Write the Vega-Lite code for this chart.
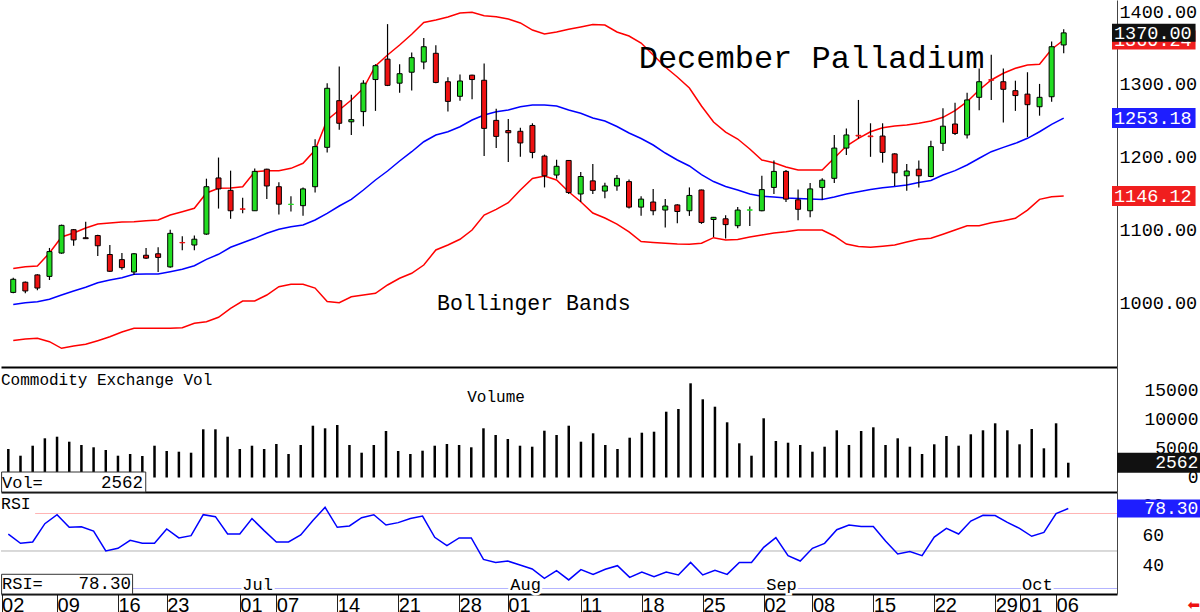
{
  "$schema": "https://vega.github.io/schema/vega-lite/v6.json",
  "background": "white",
  "padding": 0,
  "spacing": 0,
  "bounds": "flush",
  "config": {"view": {"stroke": null}, "axis": {"grid": false}, "text": {"font": "Liberation Mono", "color": "black"}},
  "datasets": {
    "d": [
{"i":0,"o":1014,"h":1034,"l":1013,"c":1032,"up":1046.8,"mid":997.4,"lo":948.0,"vol":4942,"rsi":61.3},
{"i":1,"o":1028,"h":1029,"l":1013,"c":1016,"up":1049.3,"mid":999.9,"lo":950.1,"vol":3780,"rsi":55.1},
{"i":2,"o":1038,"h":1039,"l":1017,"c":1020,"up":1050.2,"mid":1001.3,"lo":951.1,"vol":5514,"rsi":56.0},
{"i":3,"o":1036,"h":1075,"l":1031,"c":1070,"up":1068.1,"mid":1004.6,"lo":946.4,"vol":6797,"rsi":68.2},
{"i":4,"o":1068,"h":1107,"l":1067,"c":1106,"up":1090.0,"mid":1010.4,"lo":937.3,"vol":7075,"rsi":74.2},
{"i":5,"o":1100,"h":1101,"l":1078,"c":1086,"up":1095.5,"mid":1015.9,"lo":940.5,"vol":6208,"rsi":65.8},
{"i":6,"o":1089,"h":1111,"l":1087.5,"c":1087.7,"up":1102.4,"mid":1021.0,"lo":942.8,"vol":5636,"rsi":66.2},
{"i":7,"o":1092,"h":1093,"l":1064,"c":1078,"up":1107.8,"mid":1027.3,"lo":947.8,"vol":5237,"rsi":63.3},
{"i":8,"o":1066,"h":1079,"l":1042,"c":1043,"up":1109.2,"mid":1031.0,"lo":953.2,"vol":4769,"rsi":50.0},
{"i":9,"o":1059,"h":1068,"l":1045,"c":1048,"up":1110.6,"mid":1034.2,"lo":959.7,"vol":3780,"rsi":51.8},
{"i":10,"o":1042,"h":1068,"l":1038,"c":1067,"up":1111.0,"mid":1038.8,"lo":964.8,"vol":4075,"rsi":57.1},
{"i":11,"o":1065,"h":1075,"l":1060,"c":1061,"up":1112.4,"mid":1039.3,"lo":964.8,"vol":3728,"rsi":55.1},
{"i":12,"o":1067,"h":1076,"l":1042,"c":1062,"up":1113.3,"mid":1039.3,"lo":964.8,"vol":5514,"rsi":55.1},
{"i":13,"o":1049,"h":1100,"l":1048,"c":1095,"up":1120.2,"mid":1042.4,"lo":964.8,"vol":4595,"rsi":64.7},
{"i":14,"o":1082.5,"h":1091,"l":1072,"c":1082.0,"up":1124.7,"mid":1045.7,"lo":965.6,"vol":4474,"rsi":58.7},
{"i":15,"o":1079,"h":1092,"l":1072,"c":1087,"up":1129.4,"mid":1050.6,"lo":971.6,"vol":4300,"rsi":60.2},
{"i":16,"o":1094,"h":1170,"l":1093,"c":1159,"up":1150.4,"mid":1059.4,"lo":973.8,"vol":8358,"rsi":74.2},
{"i":17,"o":1171,"h":1199,"l":1129,"c":1156,"up":1156.8,"mid":1066.3,"lo":979.9,"vol":8358,"rsi":72.9},
{"i":18,"o":1154,"h":1181,"l":1115,"c":1126,"up":1157.2,"mid":1075.9,"lo":992.2,"vol":7075,"rsi":61.3},
{"i":19,"o":1128.6,"h":1144,"l":1122.5,"c":1128.1,"up":1159.0,"mid":1082.2,"lo":1002.2,"vol":4942,"rsi":61.3},
{"i":20,"o":1126,"h":1184,"l":1126,"c":1180,"up":1179.6,"mid":1088.2,"lo":1002.2,"vol":5514,"rsi":71.6},
{"i":21,"o":1183,"h":1183.5,"l":1142,"c":1160,"up":1181.0,"mid":1095.1,"lo":1010.4,"vol":4942,"rsi":63.6},
{"i":22,"o":1159,"h":1165,"l":1121,"c":1135,"up":1181.0,"mid":1100.6,"lo":1021.8,"vol":5809,"rsi":56.0},
{"i":23,"o":1134.6,"h":1146,"l":1125,"c":1135.0,"up":1184.2,"mid":1104.1,"lo":1025.1,"vol":4075,"rsi":56.0},
{"i":24,"o":1133,"h":1158,"l":1119,"c":1156,"up":1191.1,"mid":1106.5,"lo":1025.1,"vol":5636,"rsi":60.7},
{"i":25,"o":1159,"h":1224,"l":1151,"c":1214,"up":1209.3,"mid":1113.3,"lo":1020.0,"vol":8982,"rsi":70.4},
{"i":26,"o":1213,"h":1301,"l":1206,"c":1294,"up":1250.5,"mid":1122.5,"lo":1001.5,"vol":8531,"rsi":79.1},
{"i":27,"o":1277,"h":1324,"l":1237,"c":1246,"up":1264.2,"mid":1132.5,"lo":999.9,"vol":9104,"rsi":65.8},
{"i":28,"o":1248,"h":1285,"l":1230,"c":1251,"up":1277.9,"mid":1141.7,"lo":1008.1,"vol":5636,"rsi":66.7},
{"i":29,"o":1262,"h":1305,"l":1242,"c":1301,"up":1294.0,"mid":1154.5,"lo":1010.4,"vol":4300,"rsi":72.2},
{"i":30,"o":1306,"h":1327,"l":1263,"c":1325,"up":1324.6,"mid":1168.2,"lo":1012.8,"vol":5636,"rsi":74.2},
{"i":31,"o":1334,"h":1382,"l":1297,"c":1298,"up":1339.7,"mid":1180.5,"lo":1024.2,"vol":8063,"rsi":67.3},
{"i":32,"o":1301,"h":1327,"l":1288,"c":1314,"up":1353.4,"mid":1194.3,"lo":1033.4,"vol":4595,"rsi":68.9},
{"i":33,"o":1316,"h":1343,"l":1291,"c":1336,"up":1368.1,"mid":1207.0,"lo":1040.2,"vol":4075,"rsi":71.6},
{"i":34,"o":1330,"h":1363,"l":1320,"c":1351,"up":1384.2,"mid":1220.7,"lo":1051.6,"vol":4647,"rsi":73.3},
{"i":35,"o":1342,"h":1353,"l":1301,"c":1302,"up":1387.7,"mid":1229.9,"lo":1072.2,"vol":5514,"rsi":59.1},
{"i":36,"o":1303,"h":1309,"l":1262,"c":1276,"up":1391.8,"mid":1234.4,"lo":1079.0,"vol":5809,"rsi":53.6},
{"i":37,"o":1283,"h":1313,"l":1277,"c":1304,"up":1397.3,"mid":1241.3,"lo":1086.9,"vol":5636,"rsi":58.7},
{"i":38,"o":1312,"h":1312.5,"l":1279,"c":1306,"up":1398.2,"mid":1250.5,"lo":1099.6,"vol":5237,"rsi":58.7},
{"i":39,"o":1305,"h":1328,"l":1201,"c":1239,"up":1393.6,"mid":1257.4,"lo":1120.2,"vol":8531,"rsi":44.4},
{"i":40,"o":1250,"h":1266,"l":1212,"c":1228,"up":1392.2,"mid":1261.9,"lo":1128.0,"vol":7370,"rsi":42.4},
{"i":41,"o":1236,"h":1252,"l":1193,"c":1233,"up":1389.0,"mid":1264.2,"lo":1137.1,"vol":6676,"rsi":43.3},
{"i":42,"o":1235,"h":1240,"l":1200,"c":1219,"up":1383.6,"mid":1268.7,"lo":1154.5,"vol":5514,"rsi":40.7},
{"i":43,"o":1243,"h":1246,"l":1198,"c":1206,"up":1373.9,"mid":1271.1,"lo":1170.3,"vol":5341,"rsi":38.0},
{"i":44,"o":1201,"h":1203,"l":1158,"c":1174,"up":1368.5,"mid":1271.1,"lo":1173.7,"vol":8115,"rsi":31.8},
{"i":45,"o":1175,"h":1196,"l":1170,"c":1187,"up":1371.2,"mid":1269.7,"lo":1168.2,"vol":7370,"rsi":36.9},
{"i":46,"o":1195,"h":1195.5,"l":1149,"c":1151,"up":1374.9,"mid":1264.2,"lo":1152.1,"vol":8982,"rsi":30.7},
{"i":47,"o":1149,"h":1179,"l":1138,"c":1173,"up":1378.1,"mid":1259.7,"lo":1138.4,"vol":6208,"rsi":37.6},
{"i":48,"o":1167,"h":1190,"l":1149,"c":1154,"up":1381.5,"mid":1253.2,"lo":1122.9,"vol":7664,"rsi":34.4},
{"i":49,"o":1153,"h":1164.5,"l":1143,"c":1160,"up":1380.8,"mid":1249.1,"lo":1116.1,"vol":5636,"rsi":37.8},
{"i":50,"o":1160,"h":1175,"l":1153.5,"c":1170.5,"up":1371.2,"mid":1241.6,"lo":1107.8,"vol":4942,"rsi":40.2},
{"i":51,"o":1166,"h":1169,"l":1129,"c":1131,"up":1365.7,"mid":1232.7,"lo":1096.9,"vol":6901,"rsi":32.4},
{"i":52,"o":1131,"h":1146,"l":1119,"c":1142,"up":1356.1,"mid":1225.1,"lo":1083.8,"vol":7768,"rsi":36.0},
{"i":53,"o":1138,"h":1156,"l":1120,"c":1126,"up":1339.7,"mid":1216.2,"lo":1082.5,"vol":7942,"rsi":32.9},
{"i":54,"o":1127,"h":1142,"l":1103,"c":1132.5,"up":1323.2,"mid":1205.2,"lo":1081.4,"vol":11410,"rsi":36.0},
{"i":55,"o":1134,"h":1135,"l":1109,"c":1125,"up":1309.5,"mid":1195.6,"lo":1080.4,"vol":11878,"rsi":34.0},
{"i":56,"o":1126,"h":1158,"l":1119,"c":1147,"up":1294.4,"mid":1187.4,"lo":1080.0,"vol":16334,"rsi":42.4},
{"i":57,"o":1154.5,"h":1155,"l":1108,"c":1110,"up":1269.7,"mid":1175.7,"lo":1081.4,"vol":13560,"rsi":34.0},
{"i":58,"o":1114,"h":1117.5,"l":1090,"c":1117,"up":1247.8,"mid":1166.1,"lo":1089.1,"vol":12277,"rsi":37.1},
{"i":59,"o":1115,"h":1120,"l":1088,"c":1107,"up":1234.0,"mid":1159.3,"lo":1085.9,"vol":9572,"rsi":34.4},
{"i":60,"o":1105.5,"h":1131,"l":1102,"c":1127,"up":1224.4,"mid":1154.5,"lo":1086.6,"vol":5930,"rsi":42.4},
{"i":61,"o":1126.8,"h":1132,"l":1105,"c":1127.3,"up":1210.7,"mid":1149.0,"lo":1090.0,"vol":3780,"rsi":42.4},
{"i":62,"o":1126,"h":1174,"l":1125.5,"c":1155,"up":1195.6,"mid":1146.0,"lo":1092.8,"vol":10265,"rsi":52.4},
{"i":63,"o":1158,"h":1195,"l":1149,"c":1180,"up":1191.9,"mid":1144.9,"lo":1095.5,"vol":6329,"rsi":58.9},
{"i":64,"o":1180,"h":1182,"l":1138,"c":1142,"up":1186.0,"mid":1143.5,"lo":1097.3,"vol":6034,"rsi":46.9},
{"i":65,"o":1141,"h":1155,"l":1113,"c":1128,"up":1181.9,"mid":1142.8,"lo":1099.6,"vol":5636,"rsi":43.3},
{"i":66,"o":1126,"h":1164,"l":1117,"c":1156,"up":1181.9,"mid":1142.1,"lo":1099.6,"vol":4474,"rsi":51.8},
{"i":67,"o":1158,"h":1170.5,"l":1141,"c":1168,"up":1181.9,"mid":1141.4,"lo":1099.6,"vol":5341,"rsi":55.1},
{"i":68,"o":1170.5,"h":1230,"l":1164,"c":1212,"up":1198.4,"mid":1144.9,"lo":1091.4,"vol":8184,"rsi":64.2},
{"i":69,"o":1212,"h":1239,"l":1202.5,"c":1230,"up":1214.8,"mid":1149.0,"lo":1080.4,"vol":5636,"rsi":67.3},
{"i":70,"o":1229.5,"h":1278,"l":1225,"c":1228.5,"up":1225.4,"mid":1152.1,"lo":1077.0,"vol":8063,"rsi":66.4},
{"i":71,"o":1228.6,"h":1246,"l":1200,"c":1227.6,"up":1234.4,"mid":1155.2,"lo":1075.9,"vol":8705,"rsi":66.4},
{"i":72,"o":1228.5,"h":1246,"l":1192,"c":1206,"up":1239.9,"mid":1157.6,"lo":1077.3,"vol":5636,"rsi":56.7},
{"i":73,"o":1204,"h":1205,"l":1160,"c":1178,"up":1242.3,"mid":1159.3,"lo":1079.0,"vol":6797,"rsi":48.0},
{"i":74,"o":1174,"h":1190,"l":1153.5,"c":1180.5,"up":1243.6,"mid":1161.3,"lo":1083.1,"vol":5341,"rsi":49.6},
{"i":75,"o":1183,"h":1195,"l":1158,"c":1174,"up":1246.0,"mid":1164.8,"lo":1086.9,"vol":4075,"rsi":46.9},
{"i":76,"o":1173,"h":1222,"l":1172,"c":1214,"up":1249.1,"mid":1167.5,"lo":1088.2,"vol":5757,"rsi":59.3},
{"i":77,"o":1218.5,"h":1266.5,"l":1208,"c":1242,"up":1254.2,"mid":1175.1,"lo":1093.7,"vol":7196,"rsi":65.1},
{"i":78,"o":1245,"h":1274,"l":1230,"c":1232,"up":1263.3,"mid":1181.0,"lo":1099.6,"vol":5514,"rsi":61.3},
{"i":79,"o":1230,"h":1288,"l":1225,"c":1278,"up":1275.6,"mid":1188.8,"lo":1105.5,"vol":7491,"rsi":70.0},
{"i":80,"o":1281.6,"h":1321,"l":1264,"c":1303,"up":1291.6,"mid":1198.0,"lo":1105.5,"vol":8184,"rsi":73.8},
{"i":81,"o":1305.8,"h":1340,"l":1278,"c":1305.0,"up":1305.4,"mid":1207.0,"lo":1109.6,"vol":9398,"rsi":73.6},
{"i":82,"o":1303,"h":1321,"l":1247,"c":1292.6,"up":1314.6,"mid":1213.0,"lo":1112.4,"vol":8184,"rsi":69.1},
{"i":83,"o":1290.7,"h":1304.4,"l":1263,"c":1284,"up":1321.4,"mid":1218.5,"lo":1115.7,"vol":5757,"rsi":65.1},
{"i":84,"o":1286,"h":1316,"l":1227,"c":1271.5,"up":1325.9,"mid":1225.4,"lo":1127.0,"vol":8410,"rsi":59.8},
{"i":85,"o":1268.7,"h":1300,"l":1256.4,"c":1281.6,"up":1326.9,"mid":1234.4,"lo":1141.7,"vol":5063,"rsi":62.4},
{"i":86,"o":1282.4,"h":1358,"l":1275.6,"c":1351,"up":1347.5,"mid":1244.6,"lo":1145.3,"vol":9398,"rsi":74.9},
{"i":87,"o":1353.4,"h":1375,"l":1342,"c":1370,"up":1360.24,"mid":1253.18,"lo":1146.12,"vol":2562,"rsi":78.3}
    ],
    "months": [
      {"i": 19, "m": "Jul"},
      {"i": 41, "m": "Aug"},
      {"i": 62, "m": "Sep"},
      {"i": 83, "m": "Oct"}
    ]
  },
  "vconcat": [
    {
      "width": 1116,
      "height": 367,
      "data": {"name": "d"},
      "encoding": {
        "x": {"field": "i", "type": "quantitative", "title": null,
          "scale": {"domain": [-0.6, 91.0], "nice": false, "zero": false},
          "axis": {"labels": false, "ticks": false, "domain": true, "domainColor": "black", "domainWidth": 2}}
      },
      "layer": [
        {"mark": {"type": "line", "color": "#ff0000", "strokeWidth": 1.5},
          "encoding": {"y": {"field": "up", "type": "quantitative", "title": null,
            "scale": {"domain": [911.7, 1415.09], "nice": false, "zero": false},
            "axis": {"orient": "right", "values": [1000, 1100, 1200, 1300, 1400], "format": ".2f", "ticks": false,
              "labelFont": "Liberation Mono", "labelFontSize": 18.5, "labelColor": "black", "labelPadding": 2,
              "domainColor": "#444444", "domainWidth": 1}}}},
        {"mark": {"type": "line", "color": "#0000ff", "strokeWidth": 1.5},
          "encoding": {"y": {"field": "mid", "type": "quantitative", "title": null}}},
        {"mark": {"type": "line", "color": "#ff0000", "strokeWidth": 1.5},
          "encoding": {"y": {"field": "lo", "type": "quantitative", "title": null}}},
        {"mark": {"type": "rule", "color": "black", "strokeWidth": 1.2},
          "encoding": {"y": {"field": "l", "type": "quantitative", "title": null}, "y2": {"field": "h"}}},
        {"mark": {"type": "bar", "width": 5, "strokeWidth": 1},
          "encoding": {
            "y": {"field": "o", "type": "quantitative", "title": null},
            "y2": {"field": "c"},
            "fill": {"condition": {"test": "datum.c >= datum.o", "value": "#22dd22"}, "value": "#ee1111"},
            "stroke": {"condition": [
              {"test": "abs(datum.c - datum.o) < 1.2 && datum.c >= datum.o", "value": "#22dd22"},
              {"test": "abs(datum.c - datum.o) < 1.2", "value": "#ee1111"}], "value": "black"}
          }},
        {"transform": [{"filter": "datum.i == 87"}],
          "mark": {"type": "text", "text": "December Palladium", "align": "left", "baseline": "alphabetic", "fontSize": 32, "font": "Liberation Mono"},
          "encoding": {"x": {"datum": 51.8}, "y": {"datum": 1321.8}}},
        {"transform": [{"filter": "datum.i == 87"}],
          "mark": {"type": "text", "text": "Bollinger Bands", "align": "left", "baseline": "alphabetic", "fontSize": 21.5, "font": "Liberation Mono"},
          "encoding": {"x": {"datum": 35.1}, "y": {"datum": 989.8}}},
        {"transform": [{"filter": "datum.i == 87"}],
          "mark": {"type": "rule", "color": "#f01e1e", "strokeWidth": 19, "strokeCap": "butt"},
          "encoding": {"x": {"datum": 91.0}, "x2": {"datum": 97.92}, "y": {"field": "up", "type": "quantitative", "title": null}}},
        {"transform": [{"filter": "datum.i == 87"}],
          "mark": {"type": "text", "align": "left", "baseline": "middle", "dx": 2, "color": "white", "fontSize": 18.5},
          "encoding": {"x": {"datum": 91.0}, "y": {"field": "up", "type": "quantitative", "title": null}, "text": {"field": "up", "type": "quantitative", "format": ".2f"}}},
        {"transform": [{"filter": "datum.i == 87"}],
          "mark": {"type": "rule", "color": "#111111", "strokeWidth": 18, "strokeCap": "butt"},
          "encoding": {"x": {"datum": 91.0}, "x2": {"datum": 97.92}, "y": {"field": "c", "type": "quantitative", "title": null}}},
        {"transform": [{"filter": "datum.i == 87"}],
          "mark": {"type": "text", "align": "left", "baseline": "middle", "dx": 2, "color": "white", "fontSize": 18.5},
          "encoding": {"x": {"datum": 91.0}, "y": {"field": "c", "type": "quantitative", "title": null}, "text": {"field": "c", "type": "quantitative", "format": ".2f"}}},
        {"transform": [{"filter": "datum.i == 87"}],
          "mark": {"type": "rule", "color": "#1e1eff", "strokeWidth": 20, "strokeCap": "butt"},
          "encoding": {"x": {"datum": 91.0}, "x2": {"datum": 97.92}, "y": {"field": "mid", "type": "quantitative", "title": null}}},
        {"transform": [{"filter": "datum.i == 87"}],
          "mark": {"type": "text", "align": "left", "baseline": "middle", "dx": 2, "color": "white", "fontSize": 18.5},
          "encoding": {"x": {"datum": 91.0}, "y": {"field": "mid", "type": "quantitative", "title": null}, "text": {"field": "mid", "type": "quantitative", "format": ".2f"}}},
        {"transform": [{"filter": "datum.i == 87"}],
          "mark": {"type": "rule", "color": "#f01e1e", "strokeWidth": 20, "strokeCap": "butt"},
          "encoding": {"x": {"datum": 91.0}, "x2": {"datum": 97.92}, "y": {"field": "lo", "type": "quantitative", "title": null}}},
        {"transform": [{"filter": "datum.i == 87"}],
          "mark": {"type": "text", "align": "left", "baseline": "middle", "dx": 2, "color": "white", "fontSize": 18.5},
          "encoding": {"x": {"datum": 91.0}, "y": {"field": "lo", "type": "quantitative", "title": null}, "text": {"field": "lo", "type": "quantitative", "format": ".2f"}}}
      ]
    },
    {
      "width": 1116,
      "height": 125,
      "data": {"name": "d"},
      "encoding": {
        "x": {"field": "i", "type": "quantitative", "title": null,
          "scale": {"domain": [-0.6, 91.0], "nice": false, "zero": false},
          "axis": {"labels": false, "ticks": false, "domain": true, "domainColor": "black", "domainWidth": 2}}
      },
      "layer": [
        {"mark": {"type": "rule", "color": "black", "strokeWidth": 2.5},
          "encoding": {
            "y": {"field": "vol", "type": "quantitative", "title": null,
              "scale": {"domain": [-2514, 19161], "nice": false, "zero": false},
              "axis": {"orient": "right", "values": [0, 5000, 10000, 15000], "format": "d", "ticks": false,
                "labelAlign": "right", "labelPadding": 81, "labelFont": "Liberation Mono", "labelFontSize": 18,
                "labelColor": "black", "domainColor": "#444444", "domainWidth": 1}},
            "y2": {"datum": 0}}},
        {"transform": [{"filter": "datum.i == 87"}],
          "mark": {"type": "text", "text": "Commodity Exchange Vol", "align": "left", "baseline": "alphabetic", "fontSize": 16},
          "encoding": {"x": {"datum": -0.6}, "y": {"datum": 16040}}},
        {"transform": [{"filter": "datum.i == 87"}],
          "mark": {"type": "text", "text": "Volume", "align": "left", "baseline": "alphabetic", "fontSize": 16},
          "encoding": {"x": {"datum": 37.67}, "y": {"datum": 13144}}},
        {"transform": [{"filter": "datum.i == 87"}],
          "mark": {"type": "rect", "fill": "white", "stroke": "#333333", "strokeWidth": 1},
          "encoding": {"x": {"datum": -0.55}, "x2": {"datum": 11.28}, "y": {"datum": 954}, "y2": {"datum": -2514}}},
        {"transform": [{"filter": "datum.i == 87"}],
          "mark": {"type": "text", "text": "Vol=", "align": "left", "baseline": "alphabetic", "dx": 1, "fontSize": 17},
          "encoding": {"x": {"datum": -0.6}, "y": {"datum": -1821}}},
        {"transform": [{"filter": "datum.i == 87"}],
          "mark": {"type": "text", "align": "right", "baseline": "alphabetic", "fontSize": 17.5},
          "encoding": {"x": {"datum": 11.05}, "y": {"datum": -1821}, "text": {"field": "vol", "type": "quantitative", "format": "d"}}},
        {"transform": [{"filter": "datum.i == 87"}],
          "mark": {"type": "rule", "color": "#111111", "strokeWidth": 20, "strokeCap": "butt"},
          "encoding": {"x": {"datum": 91.0}, "x2": {"datum": 97.92}, "y": {"field": "vol", "type": "quantitative", "title": null}}},
        {"transform": [{"filter": "datum.i == 87"}],
          "mark": {"type": "text", "align": "right", "baseline": "middle", "color": "white", "fontSize": 18},
          "encoding": {"x": {"datum": 97.68}, "y": {"field": "vol", "type": "quantitative", "title": null}, "text": {"field": "vol", "type": "quantitative", "format": "d"}}}
      ]
    },
    {
      "width": 1116,
      "height": 102,
      "data": {"name": "d"},
      "encoding": {
        "x": {"field": "i", "type": "quantitative", "title": null,
          "scale": {"domain": [-0.6, 91.0], "nice": false, "zero": false},
          "axis": {"values": [-0.55, 4, 9, 13, 19, 22, 27, 32, 37, 41, 47, 52, 57, 62, 66, 71, 76, 81, 83, 86],
            "labelExpr": "['02','09','16','23','01','07','14','21','28','01','11','18','25','02','08','15','22','29','01','06'][indexof([-0.55,4,9,13,19,22,27,32,37,41,47,52,57,62,66,71,76,81,83,86], datum.value)]",
            "ticks": true, "tickSize": 18, "tickColor": "#222222", "tickWidth": 1,
            "labelAlign": "left", "labelBaseline": "top", "labelPadding": -17, "labelDx": 3,
            "labelFont": "Liberation Sans", "labelFontSize": 20, "labelColor": "black",
            "labelOverlap": false, "labelFlush": false, "labelBound": false,
            "domain": true, "domainColor": "black", "domainWidth": 2}}
      },
      "layer": [
        {"transform": [{"filter": "datum.i == 87"}],
          "mark": {"type": "rule", "color": "#ffb4b4", "strokeWidth": 1},
          "encoding": {"x": {"datum": 2.2}, "x2": {"datum": 91.0}, "y": {"datum": 75}}},
        {"transform": [{"filter": "datum.i == 87"}],
          "mark": {"type": "rule", "color": "#b4b4b4", "strokeWidth": 1},
          "encoding": {"x": {"datum": -0.6}, "x2": {"datum": 91.0}, "y": {"datum": 50}}},
        {"transform": [{"filter": "datum.i == 87"}],
          "mark": {"type": "rule", "color": "#b4b4ff", "strokeWidth": 1},
          "encoding": {"x": {"datum": -0.6}, "x2": {"datum": 91.0}, "y": {"datum": 25}}},
        {"mark": {"type": "line", "color": "#0000ff", "strokeWidth": 1.5},
          "encoding": {"y": {"field": "rsi", "type": "quantitative", "title": null,
            "scale": {"domain": [21.33, 89.33], "nice": false, "zero": false},
            "axis": {"orient": "right", "values": [40, 60, 80], "ticks": false, "labelAlign": "left", "labelPadding": 25,
              "labelFont": "Liberation Mono", "labelFontSize": 18, "labelColor": "black",
              "domainColor": "#444444", "domainWidth": 1}}}},
        {"data": {"name": "months"},
          "mark": {"type": "text", "align": "left", "baseline": "alphabetic", "dx": 2.5, "fontSize": 17, "fill": "white", "stroke": "white", "strokeWidth": 5},
          "encoding": {"x": {"field": "i", "type": "quantitative"}, "y": {"datum": 24}, "text": {"field": "m"}}},
        {"data": {"name": "months"},
          "mark": {"type": "text", "align": "left", "baseline": "alphabetic", "dx": 2.5, "fontSize": 17},
          "encoding": {"x": {"field": "i", "type": "quantitative"}, "y": {"datum": 24}, "text": {"field": "m"}}},
        {"transform": [{"filter": "datum.i == 87"}],
          "mark": {"type": "rect", "fill": "white", "stroke": "#333333", "strokeWidth": 1},
          "encoding": {"x": {"datum": -0.55}, "x2": {"datum": 10.2}, "y": {"datum": 34.47}, "y2": {"datum": 21.33}}},
        {"transform": [{"filter": "datum.i == 87"}],
          "mark": {"type": "text", "text": "RSI=", "align": "left", "baseline": "alphabetic", "dx": 1, "fontSize": 17},
          "encoding": {"x": {"datum": -0.6}, "y": {"datum": 24.7}}},
        {"transform": [{"filter": "datum.i == 87"}],
          "mark": {"type": "text", "align": "right", "baseline": "alphabetic", "fontSize": 17.5},
          "encoding": {"x": {"datum": 10.08}, "y": {"datum": 24.7}, "text": {"field": "rsi", "type": "quantitative", "format": ".2f"}}},
        {"transform": [{"filter": "datum.i == 87"}],
          "mark": {"type": "text", "text": "RSI", "align": "left", "baseline": "alphabetic", "fontSize": 16.5},
          "encoding": {"x": {"datum": -0.6}, "y": {"datum": 78}}},
        {"transform": [{"filter": "datum.i == 87"}],
          "mark": {"type": "rule", "color": "#1e1eff", "strokeWidth": 18, "strokeCap": "butt"},
          "encoding": {"x": {"datum": 91.0}, "x2": {"datum": 97.92}, "y": {"field": "rsi", "type": "quantitative", "title": null}}},
        {"transform": [{"filter": "datum.i == 87"}],
          "mark": {"type": "text", "align": "right", "baseline": "middle", "color": "white", "fontSize": 18},
          "encoding": {"x": {"datum": 97.68}, "y": {"field": "rsi", "type": "quantitative", "title": null}, "text": {"field": "rsi", "type": "quantitative", "format": ".2f"}}},
        {"transform": [{"filter": "datum.i == 87"}],
          "mark": {"type": "text", "text": "⬅", "align": "center", "baseline": "middle", "fontSize": 15, "font": "DejaVu Sans", "color": "#ee1111"},
          "encoding": {"x": {"datum": 97.3}, "y": {"datum": 14}}}
      ]
    }
  ]
}
